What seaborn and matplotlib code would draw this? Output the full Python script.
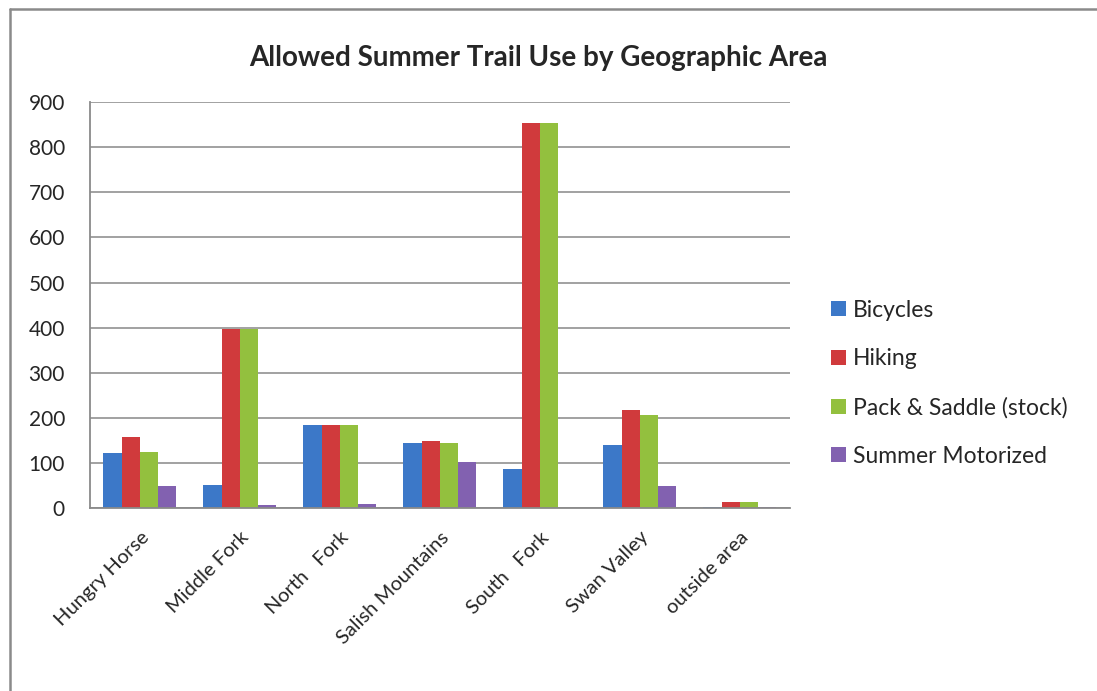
import matplotlib
matplotlib.use("Agg")
import matplotlib.pyplot as plt
import seaborn as sns
import pandas as pd
from matplotlib.lines import Line2D

areas = ["Hungry Horse", "Middle Fork", "North   Fork", "Salish Mountains",
         "South   Fork", "Swan Valley", "outside area"]
bicycles = [121, 50, 183, 144, 86, 139, 3]
hiking = [157, 397, 183, 148, 855, 217, 12]
pack_saddle = [124, 397, 183, 144, 855, 206, 12]
summer_motorized = [48, 6, 8, 102, 0, 48, 1]
series_names = ["Bicycles", "Hiking", "Pack & Saddle (stock)", "Summer Motorized"]
colors = ["#3C78C8", "#D03A3C", "#93C03E", "#8261B0"]
yticks = [0, 100, 200, 300, 400, 500, 600, 700, 800, 900]

rows = []
for name, vals in zip(series_names, [bicycles, hiking, pack_saddle, summer_motorized]):
    for a, v in zip(areas, vals):
        rows.append({"area": a, "series": name, "value": v})
df = pd.DataFrame(rows)

sns.set_theme(style="white")
plt.rcParams["font.family"] = ["Lato", "DejaVu Sans"]

fig = plt.figure(figsize=(10.97, 6.91), dpi=100)
ax = fig.add_axes([0.082, 0.265, 0.638, 0.587])

sns.barplot(data=df, x="area", y="value", hue="series", palette=colors,
            width=0.73, ax=ax, saturation=1, edgecolor="none", legend=True)

ax.set_ylim(0, 900)
ax.set_yticks(yticks)
ax.set_yticklabels([str(t) for t in yticks], fontsize=15)
ax.set_xlim(-0.5, len(areas) - 0.5)
ax.yaxis.grid(True, color="#9a9a9a", linewidth=1.3)
ax.set_axisbelow(True)
for s in ["top", "right"]:
    ax.spines[s].set_visible(False)
ax.spines["left"].set_color("#8a8a8a")
ax.spines["bottom"].set_color("#8a8a8a")
ax.spines["left"].set_linewidth(1.3)
ax.spines["bottom"].set_linewidth(1.3)
ax.tick_params(axis="y", left=False, length=0, pad=18)
ax.tick_params(axis="x", bottom=False, pad=9)
ax.set_xlabel("")
ax.set_ylabel("")
plt.setp(ax.get_xticklabels(), rotation=45, ha="right", rotation_mode="anchor", fontsize=14.5)

ax.set_title("Allowed Summer Trail Use by Geographic Area", fontsize=20,
             fontweight="bold", pad=26, x=0.64)

leg = ax.legend(loc="center left", bbox_to_anchor=(1.03, 0.307), frameon=False,
                fontsize=16.5, handlelength=0.65, handleheight=0.65, handletextpad=0.3,
                labelspacing=1.2)

bx = 9.5 / 1097
by = 1 - 9 / 691
fig.add_artist(Line2D([bx, bx], [0, by], transform=fig.transFigure,
                      color="#8a8a8a", linewidth=1.8))
fig.add_artist(Line2D([bx, 1], [by, by], transform=fig.transFigure,
                      color="#8a8a8a", linewidth=1.8))

fig.savefig("out.png", dpi=100)
